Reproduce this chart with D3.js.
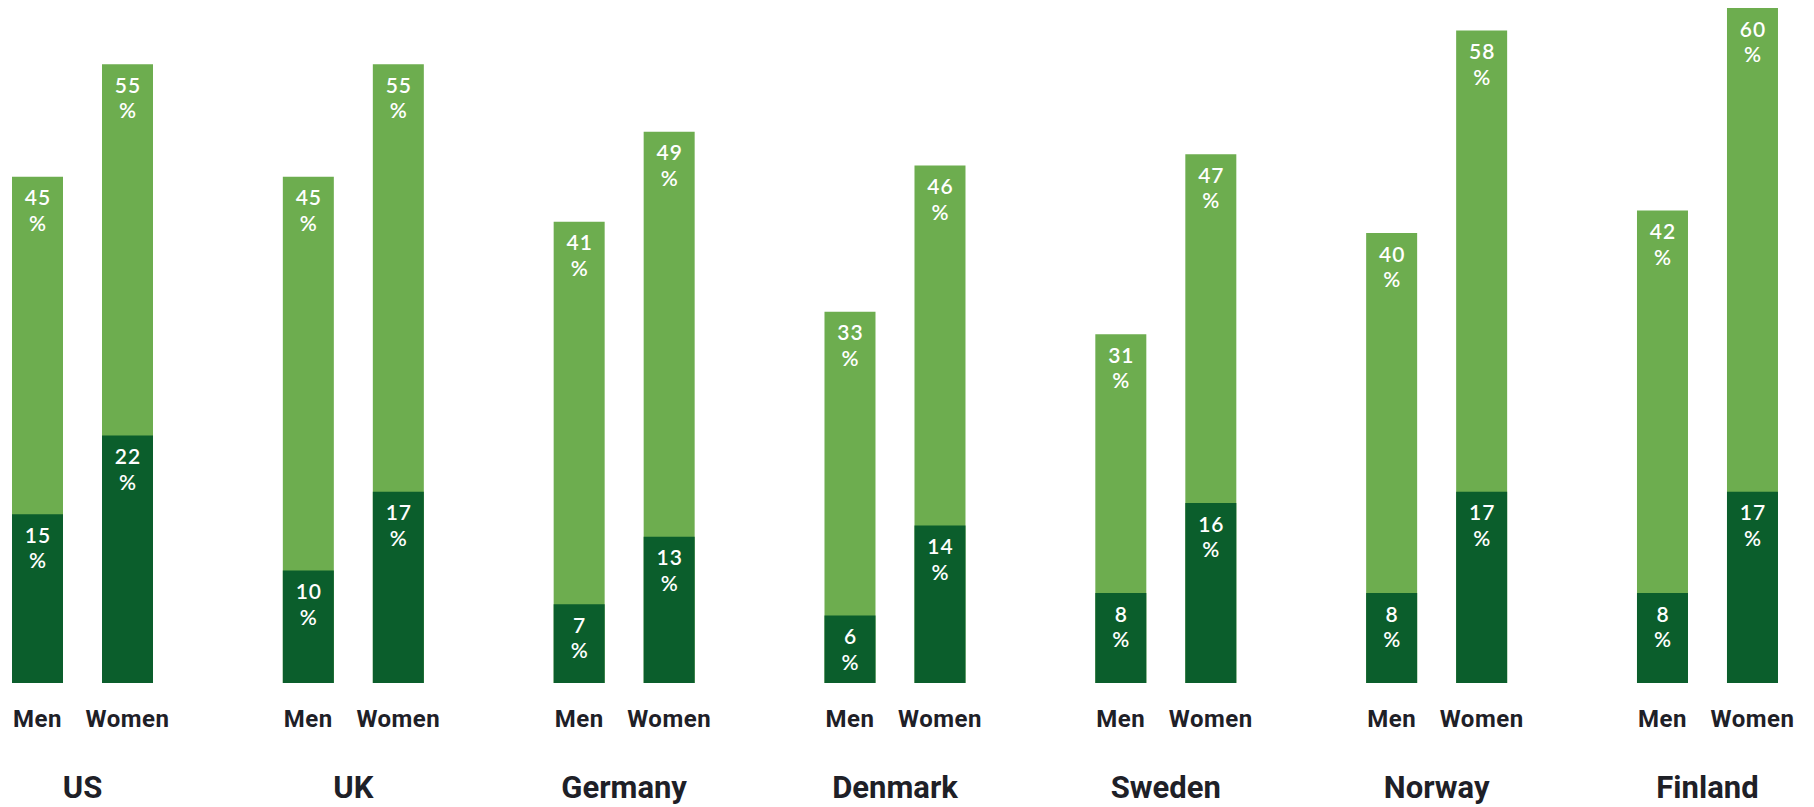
<!DOCTYPE html>
<html>
<head>
<meta charset="utf-8">
<script src="https://cdn.jsdelivr.net/npm/d3@7"></script>
<style>
  html, body { margin: 0; padding: 0; background: #ffffff; }
  svg { display: block; }
</style>
</head>
<body>
<svg id="chart" width="1814" height="807"></svg>
<script>
// Countries and the two groups compared in each
const countries = ["US", "UK", "Germany", "Denmark", "Sweden", "Norway", "Finland"];
const groups = ["Men", "Women"];

// Outer (lighter) share and inner (darker) share, per country, in percent
const menTotal   = [45, 45, 41, 33, 31, 40, 42];
const menInner   = [15, 10, 7, 6, 8, 8, 8];
const womenTotal = [55, 55, 49, 46, 47, 58, 60];
const womenInner = [22, 17, 13, 14, 16, 17, 17];

const rows = [];
countries.forEach((c, i) => {
  rows.push({ country: c, group: "Men", total: menTotal[i], inner: menInner[i] });
  rows.push({ country: c, group: "Women", total: womenTotal[i], inner: womenInner[i] });
});

const LIGHT = "#6dad4f";
const DARK = "#0b5e2c";
const INK = "#1e2027";

const svg = d3.select("#chart");
const baseY = 683;
const step = 270.83;

const x0 = d3.scaleBand().domain(countries).range([12, 12 + step * countries.length]).padding(0);
const x1 = d3.scaleBand().domain(groups).range([0, 141]).paddingInner(39 / 90).paddingOuter(0);
const y = d3.scaleLinear().domain([0, 60]).range([baseY, 8]);

const bw = x1.bandwidth();
const bx = d => x0(d.country) + x1(d.group);

const bars = svg.append("g").selectAll("g").data(rows).join("g");

// Full bar (lighter) behind, inner share (darker) over it from the baseline
bars.append("rect")
  .attr("x", bx).attr("width", bw)
  .attr("y", d => y(d.total)).attr("height", d => y(0) - y(d.total))
  .attr("fill", LIGHT);
bars.append("rect")
  .attr("x", bx).attr("width", bw)
  .attr("y", d => y(d.inner)).attr("height", d => y(0) - y(d.inner))
  .attr("fill", DARK);

// Value labels: number on one line, percent sign below
const valueLabel = (sel, key) => {
  const t = sel.append("text")
    .attr("text-anchor", "middle")
    .attr("fill", "#ffffff")
    .style("font-family", "Lato, 'Noto Sans', sans-serif")
    .style("font-size", "21px")
    .style("font-weight", "600")
    .style("letter-spacing", "1px");
  t.append("tspan")
    .attr("x", d => bx(d) + bw / 2 + 0.5)
    .attr("y", d => y(d[key]) + 28.5)
    .text(d => d[key]);
  t.append("tspan")
    .attr("x", d => bx(d) + bw / 2 + 0.5)
    .attr("y", d => y(d[key]) + 54)
    .text("%");
};
valueLabel(bars, "total");
valueLabel(bars, "inner");

// Group labels under each bar
svg.append("g").selectAll("text").data(rows).join("text")
  .attr("x", d => bx(d) + bw / 2)
  .attr("y", 727)
  .attr("text-anchor", "middle")
  .attr("fill", INK)
  .style("font-family", "Roboto, sans-serif")
  .style("font-size", "24px")
  .style("font-weight", "700")
  .style("letter-spacing", "0.5px")
  .text(d => d.group);

// Country labels centred under each pair
svg.append("g").selectAll("text").data(countries).join("text")
  .attr("x", c => x0(c) + x1("Men") + (x1("Women") + bw - x1("Men")) / 2)
  .attr("y", 798)
  .attr("text-anchor", "middle")
  .attr("fill", INK)
  .style("font-family", "Roboto, sans-serif")
  .style("font-size", "31px")
  .style("font-weight", "700")
  .text(c => c);
</script>
</body>
</html>
